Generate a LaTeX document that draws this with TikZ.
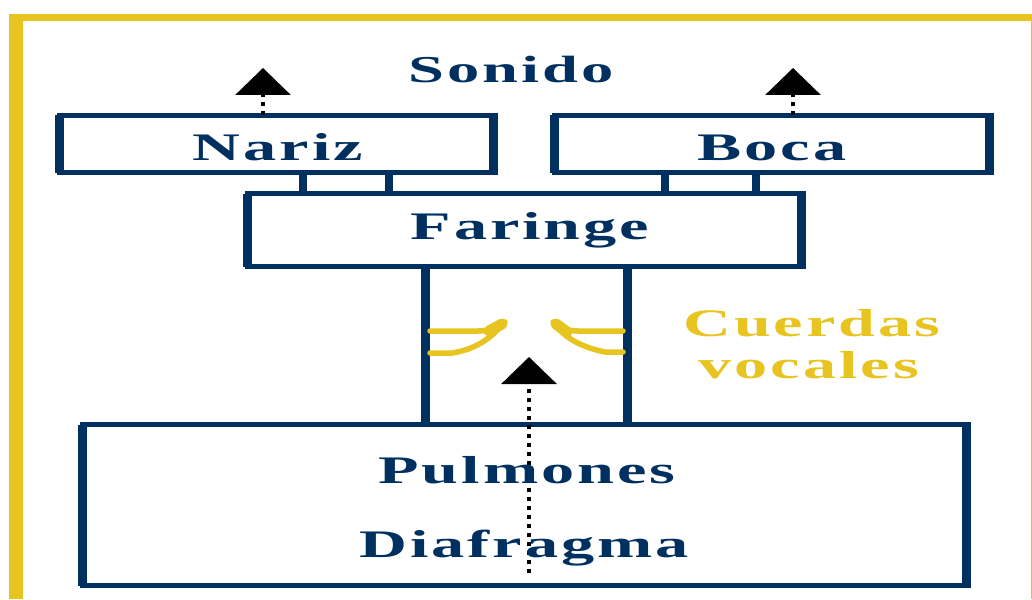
\documentclass[tikz,border=0pt]{standalone}
\usepackage{fontspec}
\usetikzlibrary{arrows.meta}
\newfontfamily\labfont{Liberation Serif}[LetterSpace=4.5]
\newcommand{\wide}[1]{\scalebox{1.7}[1]{#1}}
\definecolor{navy}{HTML}{00305F}
\definecolor{gold}{HTML}{E8C420}
\tikzset{
  organ/.style={draw=navy, line width=5pt, rectangle, outer sep=0pt, inner sep=0pt},
  side/.style={draw=navy, line width=9pt, shorten <=-2.5pt, shorten >=-2.5pt},
  duct/.style={draw=navy, line width=9pt},
  lab/.style={text=navy, anchor=base, inner sep=0pt, font=\labfont\bfseries\fontsize{39}{39}\selectfont},
  ylab/.style={lab, text=gold},
  cord/.style={draw=gold, line width=5.5pt, line cap=round},
  cordtip/.style={draw=gold, line width=11pt, line cap=round},
  flow/.style={draw=black, line width=3.5pt, dash pattern=on 4pt off 5pt, -{Triangle[width=55pt,length=27pt]}}
}
\begin{document}
\begin{tikzpicture}[x=1pt,y=-1pt]
\useasboundingbox (0,0) rectangle (1032,599);
% frame
\fill[gold] (9,14) rectangle (1032,21);
\fill[gold] (9,14) rectangle (23,599);
\fill[gold] (1030.5,14) rectangle (1032,599);
% boxes
\node[organ, minimum width=434pt, minimum height=57pt] (nariz) at (276.5,144) {};
\node[organ, minimum width=435pt, minimum height=57pt] (boca) at (772,144) {};
\node[organ, minimum width=554pt, minimum height=73pt] (faringe) at (524.5,230) {};
\node[organ, minimum width=884pt, minimum height=161pt] (pulm) at (524.5,505) {};
\foreach \n in {nariz,boca,faringe,pulm}
  \draw[side] (\n.north west) -- (\n.south west) (\n.north east) -- (\n.south east);
% ducts
\draw[duct, line width=8pt] (nariz.south -| 302.5,0) -- (faringe.north -| 302.5,0);
\draw[duct, line width=8pt] (nariz.south -| 389,0) -- (faringe.north -| 389,0);
\draw[duct, line width=8pt] (boca.south -| 664.5,0) -- (faringe.north -| 664.5,0);
\draw[duct, line width=8pt] (boca.south -| 756,0) -- (faringe.north -| 756,0);
\draw[duct] (faringe.south -| 425.5,0) -- (pulm.north -| 425.5,0);
\draw[duct] (faringe.south -| 627.5,0) -- (pulm.north -| 627.5,0);
% vocal cords
\draw[cord] (430,331) -- (478,331) .. controls (490,331) and (498,326) .. (505,322);
\draw[cord] (430,353) -- (452,353) .. controls (472,350) and (488,341) .. (500,327);
\draw[cordtip] (489,331) -- (502,324);
\draw[cord] (623,331) -- (578,331) .. controls (566,331) and (558,326) .. (553,322);
\draw[cord] (623,352) -- (605,352) .. controls (585,348) and (568,340) .. (558,328);
\draw[cordtip] (567,332) -- (556,324);
% air flow
\coordinate (outN) at (263,68);
\coordinate (outB) at (793,68);
\coordinate (lungsrc) at (529,573);
\coordinate (glottis) at (529,357);
\draw[flow] (nariz.north -| outN) -- (outN);
\draw[flow] (boca.north -| outB) -- (outB);
\draw[flow] (lungsrc) -- (glottis);
% labels
\node[lab, font=\labfont\bfseries\fontsize{38}{38}\selectfont] (sonido) at (511,83) {\wide{Sonido}};
\node[lab] (tnariz) at (278,160) {\wide{Nariz}};
\node[lab] (tboca) at (772,160) {\wide{Boca}};
\node[lab] (tfaringe) at (530,239) {\wide{Faringe}};
\node[lab] (tpulm) at (527,483) {\wide{Pulmones}};
\node[lab] (tdiaf) at (524,557) {\wide{Diafragma}};
\node[ylab] (tcuer) at (812,336) {\wide{Cuerdas}};
\node[ylab] (tvoc) at (809,378) {\wide{vocales}};
\end{tikzpicture}
\end{document}
